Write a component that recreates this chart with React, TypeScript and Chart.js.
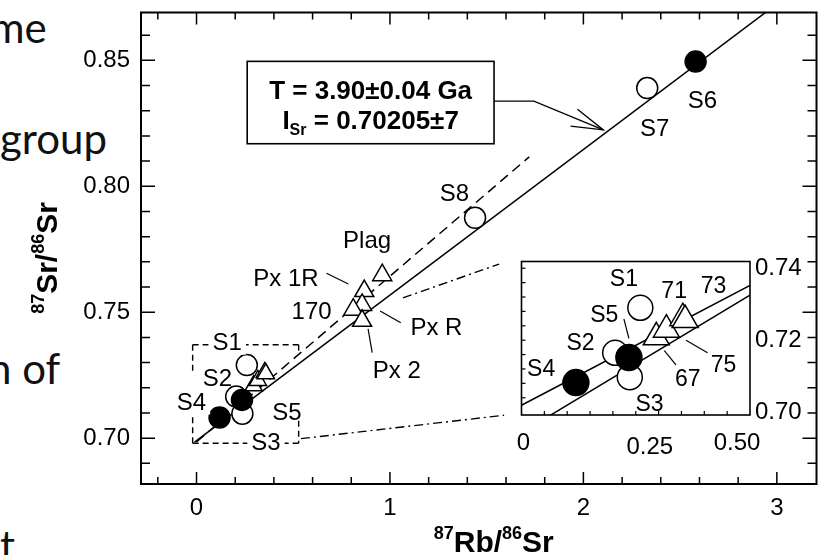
import React, { useEffect, useRef } from 'react';
import { Chart, registerables } from 'chart.js';
Chart.register(...registerables);

const FONT = '"Liberation Sans", Arial, Helvetica, sans-serif';

// ---------------- data ----------------
const openCircleNames = ['S1', 'S2', 'S3', 'S7', 'S8'];
const openCircleRb = [0.26, 0.205, 0.237, 2.33, 1.44];
const openCircleSr = [0.729, 0.7165, 0.7097, 0.839, 0.7875];

const filledCircleNames = ['S4', 'S5', 'S6'];
const filledCircleRb = [0.119, 0.235, 2.58];
const filledCircleSr = [0.7082, 0.7152, 0.8495];

const mineralNames = ['Plag', 'Px 1R', 'Px R', '170', 'Px 2'];
const mineralRb = [0.96, 0.867, 0.856, 0.81, 0.856];
const mineralSr = [0.7647, 0.7584, 0.7529, 0.751, 0.7466];

const fractionNames = ['67', '75', '71', '73'];
const fractionRb = [0.295, 0.317, 0.353, 0.358];
const fractionSr = [0.7208, 0.7229, 0.7261, 0.7256];

const isochronRb = [-0.01, 3.0];
const isochronSr = [0.6984, 0.8724];
const mineralLineRb = [0.0, 1.72];
const mineralLineSr = [0.6985, 0.8117];

const insetLineARb = [0, 0.5];
const insetLineASr = [0.7019, 0.7352];
const insetLineBRb = [0.055, 0.5];
const insetLineBSr = [0.6985, 0.7325];

const xTicks = [0, 1, 2, 3];
const yTicks = [0.7, 0.75, 0.8, 0.85];
const insetXTicks = [0, 0.25, 0.5];
const insetYTicks = [0.7, 0.72, 0.74];

// ---------------- layout of annotations (data coords) ----------------
const mainLabels = [
  { t: 'S6', x: 2.615, y: 0.8342 },
  { t: 'S7', x: 2.369, y: 0.8228 },
  { t: 'S8', x: 1.333, y: 0.7971 },
  { t: 'Plag', x: 0.882, y: 0.7786 },
  { t: 'Px 1R', x: 0.462, y: 0.7636 },
  { t: '170', x: 0.595, y: 0.7505 },
  { t: 'Px R', x: 1.24, y: 0.7438 },
  { t: 'Px 2', x: 1.035, y: 0.7268 },
  { t: 'S1', x: 0.159, y: 0.7379, bg: true },
  { t: 'S2', x: 0.108, y: 0.7237 },
  { t: 'S4', x: -0.026, y: 0.7142, bg: true },
  { t: 'S5', x: 0.467, y: 0.7103 },
  { t: 'S3', x: 0.359, y: 0.6984, bg: true },
];
const mainLeaders = [
  [[0.672, 0.7655], [0.785, 0.7612]],
  [[0.949, 0.7505], [1.056, 0.7458]],
  [[0.887, 0.7434], [0.908, 0.734]],
];
const zoomBoxSegments = [
  [[-0.02, 0.7371], [0.528, 0.7371]],
  [[-0.02, 0.698], [0.528, 0.698]],
  [[-0.02, 0.7371], [-0.02, 0.7268]],
  [[-0.02, 0.7083], [-0.02, 0.698]],
  [[0.528, 0.7371], [0.528, 0.734]],
  [[0.528, 0.7069], [0.528, 0.698]],
];
const connectorSegments = [
  [[1.067, 0.7557], [1.564, 0.7691]],
  [[0.54, 0.6998], [1.59, 0.7091]],
];
const callout = { x0: 0.262, x1: 1.538, y0: 0.8169, y1: 0.8496 };
const calloutPath = [[1.538, 0.8338], [1.744, 0.8338], [2.103, 0.8224]];

const insetLabels = [
  { t: 'S1', x: 0.224, y: 0.7371 },
  { t: 'S5', x: 0.181, y: 0.7272 },
  { t: 'S2', x: 0.129, y: 0.7192 },
  { t: 'S4', x: 0.043, y: 0.712 },
  { t: 'S3', x: 0.28, y: 0.7024 },
  { t: '67', x: 0.364, y: 0.7093 },
  { t: '75', x: 0.442, y: 0.7131 },
  { t: '71', x: 0.334, y: 0.7339 },
  { t: '73', x: 0.42, y: 0.7352 },
];
const insetLeaders = [
  [[0.224, 0.7259], [0.235, 0.7205]],
  [[0.36, 0.72], [0.407, 0.7165]],
  [[0.3125, 0.7171], [0.338, 0.7131]],
];

// ---------------- helpers ----------------
const toPts = (xs: number[], ys: number[]) => xs.map((x, i) => ({ x, y: ys[i] }));

type Part = { t: string; size: number; dy?: number };
function measureRich(ctx: CanvasRenderingContext2D, parts: Part[], weight: string) {
  let w = 0;
  for (const p of parts) {
    ctx.font = `${weight} ${p.size}px ${FONT}`;
    w += ctx.measureText(p.t).width;
  }
  return w;
}
function drawRich(ctx: CanvasRenderingContext2D, parts: Part[], x: number, y: number, weight: string) {
  const w = measureRich(ctx, parts, weight);
  let cx = x - w / 2;
  ctx.textAlign = 'left';
  ctx.textBaseline = 'alphabetic';
  for (const p of parts) {
    ctx.font = `${weight} ${p.size}px ${FONT}`;
    ctx.fillText(p.t, cx, y + (p.dy || 0));
    cx += ctx.measureText(p.t).width;
  }
}

function px(chart: any, p: number[]) {
  return [chart.scales.x.getPixelForValue(p[0]), chart.scales.y.getPixelForValue(p[1])];
}
function seg(ctx: CanvasRenderingContext2D, chart: any, a: number[], b: number[]) {
  const [ax, ay] = px(chart, a);
  const [bx, by] = px(chart, b);
  ctx.beginPath();
  ctx.moveTo(ax, ay);
  ctx.lineTo(bx, by);
  ctx.stroke();
}
function drawLabel(ctx: CanvasRenderingContext2D, chart: any, l: any, size: number) {
  const [x, y] = px(chart, [l.x, l.y]);
  ctx.font = `${size}px ${FONT}`;
  ctx.textAlign = 'center';
  ctx.textBaseline = 'middle';
  if (l.bg) {
    const w = ctx.measureText(l.t).width;
    ctx.fillStyle = '#fff';
    ctx.fillRect(x - w / 2 - 4, y - size / 2, w + 8, size);
  }
  ctx.fillStyle = '#000';
  ctx.fillText(l.t, x, y + 1);
}

// ---------------- main chart plugin ----------------
const mainDecor = {
  id: 'mainDecor',
  beforeDatasetsDraw(chart: any) {
    const ctx: CanvasRenderingContext2D = chart.ctx;
    ctx.save();
    ctx.strokeStyle = '#000';
    ctx.lineWidth = 1.4;
    ctx.setLineDash([6, 4]);
    zoomBoxSegments.forEach((s) => seg(ctx, chart, s[0], s[1]));
    ctx.setLineDash([9, 4, 2, 4]);
    connectorSegments.forEach((s) => seg(ctx, chart, s[0], s[1]));
    ctx.setLineDash([]);
    // callout box
    const [bx0, by1] = px(chart, [callout.x0, callout.y1]);
    const [bx1, by0] = px(chart, [callout.x1, callout.y0]);
    ctx.fillStyle = '#fff';
    ctx.fillRect(bx0, by1, bx1 - bx0, by0 - by1);
    ctx.lineWidth = 1.6;
    ctx.strokeRect(bx0, by1, bx1 - bx0, by0 - by1);
    ctx.fillStyle = '#000';
    const cx = (bx0 + bx1) / 2;
    drawRich(ctx, [{ t: 'T = 3.90±0.04 Ga', size: 26 }], cx, by1 + 38, 'bold');
    drawRich(
      ctx,
      [
        { t: 'I', size: 26 },
        { t: 'Sr', size: 16, dy: 6 },
        { t: ' = 0.70205±7', size: 26 },
      ],
      cx,
      by1 + 68,
      'bold'
    );
    // arrow path
    ctx.lineWidth = 1.3;
    ctx.beginPath();
    calloutPath.forEach((p, i) => {
      const [x, y] = px(chart, p);
      if (i === 0) ctx.moveTo(x, y);
      else ctx.lineTo(x, y);
    });
    ctx.stroke();
    const [tx, ty] = px(chart, calloutPath[2]);
    const [sx, sy] = px(chart, calloutPath[1]);
    const ang = Math.atan2(ty - sy, tx - sx);
    const L = 33;
    const h = (16 * Math.PI) / 180;
    ctx.beginPath();
    ctx.moveTo(tx - L * Math.cos(ang - h), ty - L * Math.sin(ang - h));
    ctx.lineTo(tx, ty);
    ctx.lineTo(tx - L * Math.cos(ang + h), ty - L * Math.sin(ang + h));
    ctx.stroke();
    ctx.restore();
  },
  afterDatasetsDraw(chart: any) {
    const ctx: CanvasRenderingContext2D = chart.ctx;
    const { left, right, top, bottom } = chart.chartArea;
    const xs = chart.scales.x;
    const ys = chart.scales.y;
    ctx.save();
    ctx.strokeStyle = '#000';
    ctx.fillStyle = '#000';
    ctx.setLineDash([]);
    ctx.lineWidth = 1.2;
    mainLeaders.forEach((s) => seg(ctx, chart, s[0], s[1]));
    mainLabels.forEach((l) => drawLabel(ctx, chart, l, 24));
    // frame
    ctx.lineWidth = 2;
    ctx.strokeRect(left, top, right - left, bottom - top);
    // ticks
    ctx.lineWidth = 1.5;
    for (let k = -1; k <= 16; k++) {
      const v = k * 0.2;
      const p = xs.getPixelForValue(v);
      if (p < left + 2 || p > right - 2) continue;
      const major = k % 5 === 0;
      const len = major ? 12 : 7;
      ctx.beginPath();
      ctx.moveTo(p, bottom);
      ctx.lineTo(p, bottom - len);
      ctx.moveTo(p, top);
      ctx.lineTo(p, top + len);
      ctx.stroke();
    }
    for (let k = 68; k <= 87; k++) {
      const v = k / 100;
      const p = ys.getPixelForValue(v);
      if (p < top + 2 || p > bottom - 2) continue;
      const major = k % 5 === 0;
      const len = major ? 14 : 9;
      ctx.beginPath();
      ctx.moveTo(left, p);
      ctx.lineTo(left + len, p);
      ctx.moveTo(right, p);
      ctx.lineTo(right - len, p);
      ctx.stroke();
    }
    // axis titles
    drawRich(
      ctx,
      [
        { t: '87', size: 18, dy: -13 },
        { t: 'Rb/', size: 30 },
        { t: '86', size: 18, dy: -13 },
        { t: 'Sr', size: 30 },
      ],
      (left + right) / 2 + 15,
      552,
      'bold'
    );
    ctx.save();
    ctx.translate(57, 258);
    ctx.rotate(-Math.PI / 2);
    drawRich(
      ctx,
      [
        { t: '87', size: 18, dy: -13 },
        { t: 'Sr/', size: 30 },
        { t: '86', size: 18, dy: -13 },
        { t: 'Sr', size: 30 },
      ],
      0,
      0,
      'bold'
    );
    ctx.restore();
    ctx.restore();
  },
};

// ---------------- inset plugin ----------------
const insetXLabelShift = [2, 14, -13];
const insetDecor = {
  id: 'insetDecor',
  beforeDatasetsDraw(chart: any) {
    const ctx: CanvasRenderingContext2D = chart.ctx;
    const { left, right, top, bottom } = chart.chartArea;
    ctx.save();
    ctx.fillStyle = '#fff';
    ctx.fillRect(left, top, right - left, bottom - top);
    ctx.restore();
  },
  afterDatasetsDraw(chart: any) {
    const ctx: CanvasRenderingContext2D = chart.ctx;
    const { left, right, top, bottom } = chart.chartArea;
    const xs = chart.scales.x;
    const ys = chart.scales.y;
    ctx.save();
    ctx.strokeStyle = '#000';
    ctx.fillStyle = '#000';
    ctx.lineWidth = 1.2;
    insetLeaders.forEach((s) => seg(ctx, chart, s[0], s[1]));
    insetLabels.forEach((l) => drawLabel(ctx, chart, l, 23));
    ctx.lineWidth = 1.6;
    ctx.strokeRect(left, top, right - left, bottom - top);
    ctx.lineWidth = 1.2;
    for (let k = 1; k < 10; k++) {
      const p = xs.getPixelForValue(k * 0.05);
      ctx.beginPath();
      ctx.moveTo(p, bottom);
      ctx.lineTo(p, bottom - 4);
      ctx.stroke();
    }
    for (let k = 176; k <= 185; k++) {
      const p = ys.getPixelForValue(k * 0.004);
      if (p < top + 2 || p > bottom - 2) continue;
      ctx.beginPath();
      ctx.moveTo(left, p);
      ctx.lineTo(left + 4, p);
      ctx.stroke();
    }
    ctx.font = `24px ${FONT}`;
    ctx.textAlign = 'center';
    ctx.textBaseline = 'middle';
    insetXTicks.forEach((v, i) => {
      const p = xs.getPixelForValue(v) + insetXLabelShift[i];
      ctx.fillText(v === 0 ? '0' : v.toFixed(2), p, bottom + 28 + (i === 1 ? 4 : 0));
    });
    ctx.restore();
  },
};

function baseScale(ticks: number[], extra: any) {
  return {
    type: 'linear',
    grid: { display: false, drawTicks: false },
    border: { display: false },
    afterBuildTicks: (s: any) => {
      s.ticks = ticks.map((v) => ({ value: v }));
    },
    ...extra,
  };
}

export default function App() {
  const mainRef = useRef<HTMLCanvasElement>(null);
  const insetRef = useRef<HTMLCanvasElement>(null);

  useEffect(() => {
    const pointStyle = (fill: string, style: string, r: number) => ({
      pointStyle: style,
      pointRadius: r,
      pointBackgroundColor: fill,
      pointBorderColor: '#000',
      pointBorderWidth: 1.5,
      backgroundColor: fill,
      borderColor: '#000',
      showLine: false,
    });
    const lineStyle = (dash: number[]) => ({
      showLine: true,
      pointRadius: 0,
      borderColor: '#000',
      borderWidth: 1.5,
      borderDash: dash,
      fill: false,
    });
    const tickFont = { family: FONT, size: 24 };

    const main = new Chart(mainRef.current!, {
      type: 'scatter',
      data: {
        datasets: [
          { label: 'filled', data: toPts(filledCircleRb, filledCircleSr), ...pointStyle('#000', 'circle', 10.5) },
          { label: 'open', data: toPts(openCircleRb, openCircleSr), ...pointStyle('#fff', 'circle', 10.5) },
          { label: 'minerals', data: toPts(mineralRb, mineralSr), ...pointStyle('#fff', 'triangle', 11) },
          { label: 'fractions', data: toPts(fractionRb, fractionSr), ...pointStyle('#fff', 'triangle', 10) },
          { label: 'isochron', data: toPts(isochronRb, isochronSr), ...lineStyle([]) },
          { label: 'mineral line', data: toPts(mineralLineRb, mineralLineSr), ...lineStyle([10, 6]) },
        ] as any,
      },
      options: {
        responsive: false,
        animation: false,
        events: [],
        layout: { padding: { left: 0, top: 10, right: 7, bottom: 0 } },
        plugins: { legend: { display: false }, tooltip: { enabled: false } },
        scales: {
          x: baseScale(xTicks, {
            min: -0.287,
            max: 3.205,
            afterFit: (s: any) => {
              s.height = 71;
              s.paddingLeft = 0;
              s.paddingRight = 0;
            },
            ticks: { font: tickFont, color: '#000', padding: 10, maxRotation: 0, autoSkip: false, callback: (v: any) => String(v) },
          }),
          y: baseScale(yTicks, {
            min: 0.6818,
            max: 0.869,
            afterFit: (s: any) => {
              s.width = 141;
              s.paddingTop = 0;
              s.paddingBottom = 0;
            },
            ticks: { font: tickFont, color: '#000', padding: 11, autoSkip: false, callback: (v: any) => Number(v).toFixed(2) },
          }),
        } as any,
      },
      plugins: [mainDecor],
    });

    const inset = new Chart(insetRef.current!, {
      type: 'scatter',
      data: {
        datasets: [
          { label: 'filled', data: toPts(filledCircleRb, filledCircleSr), ...pointStyle('#000', 'circle', 13) },
          { label: 'open', data: toPts(openCircleRb, openCircleSr), ...pointStyle('#fff', 'circle', 12.5) },
          { label: 'fractions', data: toPts(fractionRb, fractionSr), ...pointStyle('#fff', 'triangle', 15) },
          { label: 'line A', data: toPts(insetLineARb, insetLineASr), ...lineStyle([]) },
          { label: 'line B', data: toPts(insetLineBRb, insetLineBSr), ...lineStyle([]) },
        ] as any,
      },
      options: {
        responsive: false,
        animation: false,
        events: [],
        layout: { padding: { left: 13, top: 10, right: 0, bottom: 0 } },
        plugins: { legend: { display: false }, tooltip: { enabled: false } },
        scales: {
          x: baseScale(insetXTicks, {
            min: 0,
            max: 0.5,
            afterFit: (s: any) => {
              s.height = 45;
              s.paddingLeft = 0;
              s.paddingRight = 0;
            },
            ticks: { display: false },
          }),
          y: baseScale(insetYTicks, {
            position: 'right',
            min: 0.6992,
            max: 0.74187,
            afterFit: (s: any) => {
              s.width = 65;
              s.paddingTop = 0;
              s.paddingBottom = 0;
            },
            ticks: { font: tickFont, color: '#000', padding: 5, autoSkip: false, callback: (v: any) => Number(v).toFixed(2) },
          }),
        } as any,
      },
      plugins: [insetDecor],
    });

    return () => {
      main.destroy();
      inset.destroy();
    };
  }, []);

  const slideText = (t: string, left: number, top: number) => (
    <div
      style={{
        position: 'absolute',
        left,
        top,
        fontFamily: 'Lato, "Open Sans", sans-serif',
        fontSize: 42,
        lineHeight: '50px',
        color: '#111',
        whiteSpace: 'nowrap',
      }}
    >
      {t}
    </div>
  );

  return (
    <div style={{ position: 'absolute', left: 0, top: 0, width: 829, height: 555, overflow: 'hidden', background: '#fff' }}>
      {slideText('me', -10, 2)}
      {slideText('group', 0, 113)}
      {slideText('n of', -12, 343)}
      {slideText('t', 0, 520)}
      <canvas ref={mainRef} width={829} height={555} style={{ position: 'absolute', left: 0, top: 0, width: 829, height: 555 }} />
      <canvas ref={insetRef} width={310} height={215} style={{ position: 'absolute', left: 505, top: 245, width: 310, height: 215 }} />
    </div>
  );
}
